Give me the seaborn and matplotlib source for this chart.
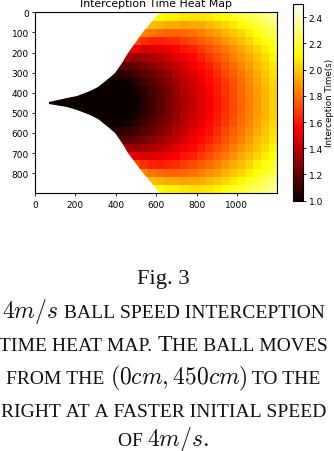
import numpy as np
import pandas as pd
import matplotlib
matplotlib.use("Agg")
import matplotlib.pyplot as plt
from matplotlib.path import Path
from matplotlib.transforms import Affine2D
import seaborn as sns

# Interception time (s), cell width 40 cm, right-aligned on x = 1180.
# Rows run from the top edge to the ball line; the picture is mirror-symmetric about y = 450.
row_01 = [2.13,2.12,2.10,2.09,2.07,2.06,2.06,2.07,2.10,2.13,2.16,2.19,2.23,2.26,2.29,2.34]
row_02 = [1.99,1.97,1.95,1.93,1.92,1.91,1.92,1.93,1.96,1.99,2.02,2.07,2.11,2.15,2.20,2.25,2.29]
row_03 = [1.87,1.84,1.81,1.79,1.77,1.77,1.78,1.80,1.83,1.87,1.90,1.95,1.99,2.03,2.08,2.13,2.18,2.23]
row_04 = [1.75,1.70,1.65,1.62,1.61,1.63,1.65,1.68,1.71,1.75,1.79,1.83,1.88,1.93,1.97,2.02,2.08,2.13,2.18]
row_05 = [1.52,1.50,1.47,1.48,1.49,1.52,1.55,1.59,1.62,1.67,1.72,1.77,1.82,1.87,1.92,1.97,2.03,2.08,2.14]
row_06 = [1.37,1.35,1.32,1.33,1.36,1.39,1.43,1.48,1.52,1.56,1.61,1.67,1.72,1.77,1.83,1.88,1.93,1.99,2.04,2.10]
row_07 = [1.20,1.19,1.18,1.21,1.24,1.28,1.32,1.37,1.41,1.46,1.52,1.57,1.62,1.67,1.73,1.79,1.84,1.90,1.96,2.01,2.07]
row_08 = [1.05,1.05,1.06,1.09,1.13,1.17,1.21,1.26,1.31,1.37,1.42,1.48,1.53,1.58,1.64,1.70,1.76,1.81,1.87,1.93,1.99,2.05]
row_09 = [1.0,1.0,1.0,1.0,1.02,1.07,1.12,1.17,1.22,1.27,1.33,1.39,1.44,1.50,1.56,1.61,1.67,1.73,1.79,1.85,1.91,1.97,2.03]
row_10 = [1.0,1.0,1.0,1.0,1.0,1.0,1.0,1.03,1.08,1.14,1.19,1.25,1.31,1.37,1.43,1.48,1.54,1.60,1.66,1.72,1.78,1.84,1.90,1.95,2.01]
row_11 = [1.0,1.0,1.0,1.0,1.0,1.0,1.0,1.0,1.0,1.0,1.0,1.01,1.06,1.12,1.18,1.24,1.30,1.36,1.41,1.47,1.53,1.59,1.65,1.71,1.77,1.83,1.89,1.95,2.01]
top_rows = [row_01,row_02,row_03,row_04,row_05,row_06,row_07,row_08,row_09,row_10,row_11]

# Left edge of the reachable region
edge_offset = [0, 5, 22, 36, 60, 80, 100, 120, 150, 200, 250, 350, 450]   # cm from the ball line
edge_x      = [68, 70, 157, 206, 272, 310, 338, 363, 396, 429, 462, 536, 619]

x_extent = 1200
y_extent = 900
ball_y = 450
x_ticks = [0,200,400,600,800,1000]
y_ticks = [0,100,200,300,400,500,600,700,800]
cbar_ticks = [1.0,1.2,1.4,1.6,1.8,2.0,2.2,2.4]
title = "Interception Time Heat Map"
cbar_label = "Interception Time(s)"

ncol = 30
half = np.array([[np.nan]*(ncol-len(r)) + r for r in top_rows])
grid = pd.DataFrame(np.vstack([half, half[::-1]]))

plt.rcParams['mathtext.fontset'] = 'cm'
W, H = 334, 452
fig = plt.figure(figsize=(W/100, H/100), dpi=100, facecolor='white')
ax = fig.add_axes([35/W, 1-194.3/H, 242.3/W, 181/H])
cax = fig.add_axes([292.5/W, 1-201.7/H, 10/W, 196.7/H])
sns.heatmap(grid, ax=ax, cbar_ax=cax, cmap='hot', vmin=1.0, vmax=2.5,
            xticklabels=False, yticklabels=False,
            cbar_kws={'ticks': cbar_ticks})
sx, sy = grid.shape[1]/x_extent, grid.shape[0]/y_extent
ax.set_xticks([v*sx for v in x_ticks])
ax.set_xticklabels([str(v) for v in x_ticks], rotation=0, fontsize=6.5)
ax.set_yticks([v*sy for v in y_ticks])
ax.set_yticklabels([str(v) for v in y_ticks], rotation=0, fontsize=6.5)
ax.tick_params(length=2.5, width=0.6, pad=2)
for s in ax.spines.values():
    s.set_visible(True); s.set_linewidth(0.8)
ax.set_title(title, fontsize=7.8, pad=4.5)

# Trim the cells to the edge of the reachable region
upper = [(x, ball_y-d) for x, d in zip(edge_x, edge_offset)]
lower = [(x, ball_y+d) for x, d in zip(edge_x, edge_offset)]
outline = upper[::-1] + lower[1:] + [(x_extent, y_extent), (x_extent, 0)]
clip = Path(np.array(outline, float), closed=False)
clip = Path(np.vstack([clip.vertices, clip.vertices[:1]]), closed=True)
ax.collections[0].set_clip_path(clip, Affine2D().scale(sx, sy) + ax.transData)

cax.tick_params(labelsize=6.5, length=2.5, width=0.6, pad=2)
cbar = ax.collections[0].colorbar
cbar.outline.set_visible(True); cbar.outline.set_linewidth(0.8)
cbar.set_label(cbar_label, fontsize=6.3, labelpad=1)

# Caption
serif = 'Liberation Serif'
big, math, small = 16.2, 17.0, 14.0
ink = '#111111'
S, L, M = 'S', 'L', 'M'
caption_lines = [
    (318, [("$4m/s$", M), (" BALL SPEED INTERCEPTION", S)]),
    (351, [("TIME HEAT MAP. ", S), ("T", L), ("HE BALL MOVES", S)]),
    (384, [("FROM THE ", S), ("$(0cm,450cm)$", M), (" TO THE", S)]),
    (417, [("RIGHT AT A FASTER INITIAL SPEED", S)]),
    (446, [("OF ", S), ("$4m/s.$", M)]),
]
fig.text(163/W, 1-284/H, "Fig. 3", family=serif, fontsize=big, ha='center', va='baseline', color=ink)
r = fig.canvas.get_renderer()
for y, runs in caption_lines:
    ts, ws = [], []
    for s, k in runs:
        size = {S: small, L: math, M: math}[k]
        t = fig.text(0, 1-y/H, s.replace(' ', '\u00a0') if k != M else s, family=serif,
                     fontsize=size, ha='left', va='baseline', color=ink)
        ts.append(t); ws.append(t.get_window_extent(r).width)
    x = 163.5 - sum(ws)/2
    for t, w in zip(ts, ws):
        t.set_x(x/W); x += w
fig.savefig('out.png', dpi=100)
